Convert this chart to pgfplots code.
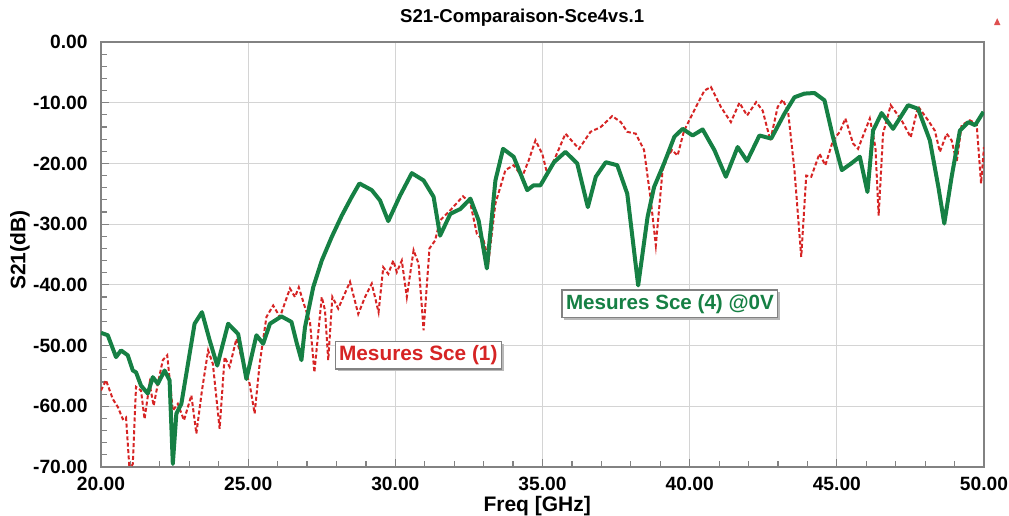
\documentclass[border=0pt]{standalone}
\usepackage{fontspec}
\setmainfont{Liberation Sans}
\usepackage{pgfplots}
\pgfplotsset{compat=1.18}
\usetikzlibrary{shadows}
\definecolor{sgreen}{RGB}{22,128,68}
\definecolor{sred}{RGB}{214,36,36}
\definecolor{gridgray}{RGB}{212,212,212}
\definecolor{boxgray}{RGB}{130,130,130}
\begin{document}
\begin{tikzpicture}
  \begin{axis}[
      scale only axis,
      width=441.5pt, height=212.5pt,
      xmin=20, xmax=50, ymin=-70, ymax=0,
      clip=true,
      axis line style={boxgray, line width=0.8pt},
      xtick={20,25,...,50},
      xticklabels={20.00,25.00,30.00,35.00,40.00,45.00,50.00},
      ytick={-70,-60,...,0},
      yticklabels={-70.00,-60.00,-50.00,-40.00,-30.00,-20.00,-10.00,0.00},
      minor x tick num=4,
      minor y tick num=4,
      tick align=inside,
      major tick length=4pt, minor tick length=3pt,
      tick style={boxgray, line width=0.6pt},
      xtick pos=bottom, ytick pos=left,
      grid=major,
      major grid style={gridgray, line width=0.6pt},
      tick label style={font=\bfseries\fontsize{9.6}{11}\selectfont, inner sep=0pt},
      xticklabel style={yshift=-5pt},
      yticklabel style={xshift=-6.5pt},
      title={S21-Comparaison-Sce4vs.1},
      title style={at={(0.477,1)}, anchor=base, yshift=4pt, inner sep=0pt,
        font=\bfseries\fontsize{9.3}{11}\selectfont},
      xlabel={Freq [GHz]},
      xlabel style={at={(0.494,0)}, anchor=base, yshift=-22.5pt, inner sep=0pt,
        font=\bfseries\fontsize{10.5}{12}\selectfont},
      ylabel={S21(dB)},
      ylabel style={at={(0,0.51)}, anchor=center, yshift=40.5pt, inner sep=0pt,
        font=\bfseries\fontsize{10.5}{12}\selectfont},
    ]
    % Mesures Sce (1)
    \addplot [sred, line width=1.0pt, dash pattern=on 2pt off 1.2pt] coordinates {
      (20.00,-57.4) (20.17,-55.7) (20.40,-58.8) (20.57,-60.1) (20.74,-62.1)
      (20.85,-61.8) (20.97,-70.5) (21.08,-69.5) (21.19,-56.8) (21.36,-57.4)
      (21.48,-62.1) (21.65,-56.3) (21.79,-59.9) (21.93,-56.3) (22.10,-52.4)
      (22.25,-51.6) (22.44,-60.7) (22.61,-59.6) (22.82,-62.3) (23.07,-58.2)
      (23.24,-64.5) (23.43,-57.4) (23.64,-50.8) (23.80,-53.0) (24.03,-63.7)
      (24.20,-51.9) (24.37,-53.5) (24.60,-48.9) (24.83,-53.0) (25.05,-56.3)
      (25.22,-61.2) (25.39,-53.0) (25.62,-45.3) (25.85,-43.4) (26.08,-45.3)
      (26.42,-40.6) (26.59,-42.0) (26.72,-40.4) (26.93,-43.7) (27.10,-46.1)
      (27.25,-54.4) (27.50,-42.0) (27.61,-44.2) (27.72,-52.4) (27.86,-42.0)
      (28.06,-43.9) (28.46,-39.5) (28.74,-44.8) (28.97,-42.0) (29.20,-39.8)
      (29.43,-44.5) (29.59,-37.1) (29.76,-38.2) (29.93,-36.0) (30.05,-37.9)
      (30.22,-36.0) (30.39,-42.0) (30.62,-34.3) (30.79,-36.5) (30.96,-47.5)
      (31.16,-34.0) (31.35,-32.7) (31.52,-29.4) (31.87,-27.7) (32.30,-25.4)
      (32.55,-26.6) (32.77,-31.6) (33.00,-32.7) (33.17,-36.0) (33.40,-26.6)
      (33.74,-21.1) (34.02,-20.3) (34.31,-22.2) (34.53,-19.5) (34.76,-16.2)
      (34.99,-18.4) (35.16,-21.7) (35.39,-19.5) (35.78,-15.1) (36.24,-17.6)
      (36.63,-14.8) (36.98,-14.0) (37.37,-12.2) (37.66,-13.2) (37.88,-14.8)
      (38.17,-15.1) (38.45,-17.8) (38.68,-26.1) (38.85,-33.5) (39.08,-21.1)
      (39.25,-18.9) (39.40,-17.8) (39.59,-18.7) (39.81,-14.6) (40.15,-11.3)
      (40.50,-8.0) (40.72,-7.4) (41.06,-10.7) (41.40,-13.2) (41.69,-10.0)
      (41.95,-12.1) (42.26,-9.9) (42.48,-11.3) (42.74,-16.2) (42.99,-10.7)
      (43.16,-9.5) (43.34,-11.3) (43.56,-21.1) (43.79,-35.4) (43.96,-22.0)
      (44.13,-22.2) (44.41,-18.4) (44.61,-20.3) (44.87,-16.2) (45.10,-14.8)
      (45.29,-12.6) (45.55,-16.7) (45.72,-17.6) (46.12,-12.6) (46.31,-17.3)
      (46.42,-28.6) (46.57,-15.1) (46.83,-10.4) (47.20,-12.9) (47.51,-15.7)
      (47.76,-10.6) (48.10,-12.9) (48.33,-14.6) (48.50,-18.1) (48.73,-15.1)
      (48.90,-16.2) (49.07,-19.8) (49.24,-13.7) (49.52,-12.9) (49.75,-13.5)
      (49.90,-23.3) (50.00,-17.3)
    };
    % Mesures Sce (4) @0V
    \addplot [sgreen, line width=2.0pt, line join=round] coordinates {
      (20.00,-47.9) (20.23,-48.3) (20.51,-51.9) (20.68,-50.8) (20.91,-51.6)
      (21.08,-54.1) (21.19,-54.4) (21.36,-56.6) (21.59,-57.9) (21.76,-55.2)
      (21.93,-56.3) (22.16,-54.1) (22.33,-55.7) (22.44,-69.5) (22.56,-61.2)
      (22.73,-59.6) (23.18,-46.4) (23.43,-44.5) (23.69,-49.1) (23.95,-53.3)
      (24.32,-46.4) (24.66,-48.1) (24.94,-55.5) (25.28,-48.3) (25.51,-49.7)
      (25.74,-46.4) (26.13,-45.2) (26.47,-46.1) (26.64,-49.4) (26.81,-52.4)
      (26.93,-47.0) (27.21,-40.4) (27.50,-36.0) (27.84,-32.1) (28.18,-28.6)
      (28.52,-25.5) (28.78,-23.3) (29.20,-24.4) (29.48,-26.1) (29.76,-29.5)
      (30.16,-25.3) (30.56,-21.6) (30.96,-22.8) (31.30,-25.5) (31.52,-31.9)
      (31.87,-28.3) (32.21,-27.5) (32.55,-25.8) (32.83,-29.4) (33.11,-37.3)
      (33.40,-22.8) (33.66,-17.6) (34.02,-18.9) (34.48,-24.4) (34.70,-23.6)
      (34.93,-23.6) (35.39,-19.8) (35.78,-18.1) (36.18,-20.0) (36.54,-27.2)
      (36.81,-22.2) (37.15,-19.8) (37.54,-20.3) (37.88,-25.0) (38.25,-40.1)
      (38.57,-28.8) (38.79,-23.9) (39.13,-20.0) (39.48,-15.6) (39.76,-14.3)
      (40.10,-15.4) (40.44,-14.4) (40.84,-17.8) (41.23,-22.2) (41.63,-17.3)
      (41.95,-19.6) (42.37,-15.4) (42.77,-15.9) (43.22,-11.8) (43.56,-9.1)
      (43.90,-8.5) (44.24,-8.4) (44.58,-9.6) (44.87,-15.7) (45.17,-21.1)
      (45.49,-20.0) (45.78,-18.9) (46.04,-24.7) (46.23,-14.6) (46.52,-11.7)
      (46.91,-14.3) (47.42,-10.4) (47.76,-11.0) (48.16,-16.2) (48.45,-23.9)
      (48.65,-29.9) (48.90,-22.2) (49.18,-14.6) (49.47,-13.2) (49.70,-13.7)
      (49.98,-11.5)
    };
    \node [draw=boxgray, fill=white, line width=0.6pt, inner sep=2pt,
      drop shadow={shadow xshift=1.2pt, shadow yshift=-1.2pt, fill=gray!55, opacity=1},
      text=sred, font=\bfseries\fontsize{10.4}{12}\selectfont]
      at (axis cs:30.78,-51.6) {Mesures Sce (1)};
    \node [draw=boxgray, fill=white, line width=0.6pt, inner sep=2pt,
      drop shadow={shadow xshift=1.2pt, shadow yshift=-1.2pt, fill=gray!55, opacity=1},
      text=sgreen, font=\bfseries\fontsize{10.3}{12}\selectfont]
      at (axis cs:39.33,-43.1) {Mesures Sce (4) @0V};
    \coordinate (bl) at (rel axis cs:0,0);
    \coordinate (tr) at (rel axis cs:1,1);
  \end{axis}
  % small marker icon at top right
  \fill [sred!80] ([shift={(5pt,8.5pt)}]tr) -- ++(3.2pt,0) -- ++(-1.6pt,3.4pt) -- cycle;
  \pgfresetboundingbox
  \path ([shift={(-50.5pt,-24.5pt)}]bl) rectangle ([shift={(12.5pt,21pt)}]tr);
\end{tikzpicture}
\end{document}
